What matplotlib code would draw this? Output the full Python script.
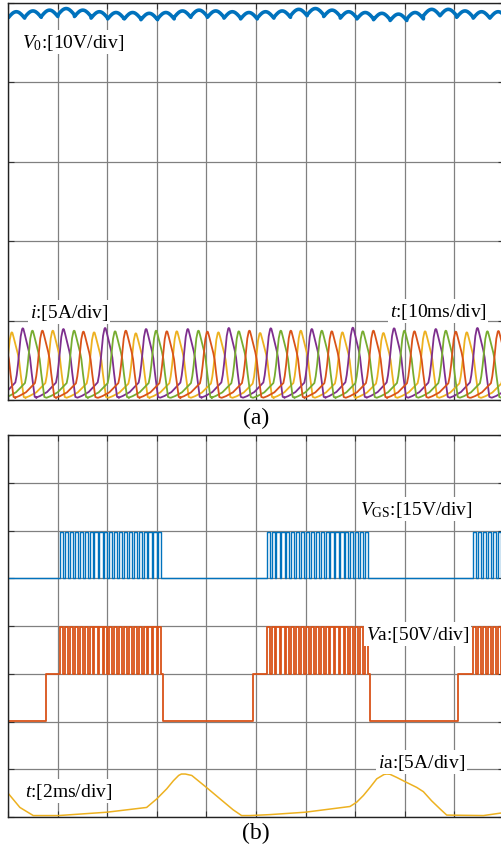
import matplotlib.pyplot as plt
import numpy as np

plt.rcParams['font.family'] = ['Liberation Serif', 'DejaVu Serif']
plt.rcParams['mathtext.fontset'] = 'custom'
plt.rcParams['mathtext.rm'] = 'Liberation Serif'
plt.rcParams['mathtext.it'] = 'Liberation Serif:italic'

# ---------------- data (a) : 10 ms/div, values in divisions ----------------
# output voltage ripple: one arc per ~3.35 ms, top level of each arc
vo_arc_ms = 3.35
vo_arc_top = [4.89, 4.90, 4.91, 4.93, 4.91, 4.89, 4.88, 4.88, 4.87, 4.88,
              4.90, 4.91, 4.90, 4.89, 4.88, 4.89, 4.90, 4.92, 4.93, 4.91,
              4.89, 4.88, 4.87, 4.86, 4.88, 4.92, 4.92, 4.90, 4.89, 4.89]
vo_depth = 0.08

# phase current pulses: peak time (ms) and peak height (div)
phase_order = ['R', 'O', 'P', 'G']
pk_t = [-1.3, 0.75, 2.96, 4.90, 6.91, 9.01, 11.15, 13.31, 15.18, 17.34, 19.56,
        21.57, 23.73, 25.75, 27.82, 29.84, 32.00, 34.01, 36.23, 38.37, 40.18,
        42.40, 44.50, 46.51, 48.65, 50.81, 52.96, 54.98, 57.00, 59.01, 61.23,
        63.25, 65.26, 67.40, 69.50, 71.51, 73.65, 75.67, 77.82, 79.90, 81.92,
        84.07, 86.23, 88.25, 90.26, 92.48, 94.62, 96.63, 98.85, 100.95, 103.1]
pk_h = [0.87, 0.852, 0.903, 0.873, 0.873, 0.873, 0.894, 0.873, 0.861, 0.852,
        0.907, 0.865, 0.873, 0.840, 0.894, 0.873, 0.865, 0.865, 0.894, 0.873,
        0.861, 0.852, 0.907, 0.865, 0.873, 0.844, 0.903, 0.873, 0.873, 0.873,
        0.894, 0.873, 0.865, 0.852, 0.911, 0.865, 0.873, 0.844, 0.903, 0.873,
        0.865, 0.865, 0.894, 0.873, 0.861, 0.852, 0.907, 0.865, 0.869, 0.85, 0.9]

# one current pulse, time relative to its peak (ms)
tpl_t = [-5.51, -4.71, -3.29, -1.48, -1.21, -0.94, -0.67, -0.40, -0.11, 0.0,
         0.13, 0.40, 0.74, 1.21, 1.48, 1.81, 2.15, 2.42, 2.82]
tpl_v = [0.03, 0.05, 0.10, 0.22, 0.31, 0.45, 0.62, 0.80, 0.89, 0.90,
         0.895, 0.83, 0.74, 0.62, 0.53, 0.34, 0.17, 0.04, 0.03]

# ---------------- data (b) : 2 ms/div ----------------
blk_start = [2.10, 10.43, 18.76]     # ms, start of chopped conduction blocks
blk_len = 4.15
chop_T = 0.198
chop_duty = 0.65
va_step = [1.53, 9.88, 18.13]        # Va steps to middle level
vgs_lo, vgs_hi = 5.0, 5.96
va_lo, va_mid, va_hi = 2.02, 3.0, 3.98

ia_t = [0.0, 0.48, 1.02, 2.03, 3.98, 5.59, 6.00, 6.40, 6.67, 6.88, 6.99, 7.15,
        7.41, 8.00, 8.55, 9.08, 9.42, 9.76, 10.56, 11.98, 13.79, 14.06, 14.33,
        14.60, 14.87, 15.16, 15.27, 15.40, 15.67, 16.01, 16.48, 16.75, 17.08,
        17.42, 17.69, 19.17, 19.84, 20.0]
ia_v = [0.50, 0.20, 0.03, 0.03, 0.10, 0.20, 0.38, 0.59, 0.76, 0.87, 0.90, 0.90,
        0.87, 0.62, 0.38, 0.15, 0.03, 0.03, 0.05, 0.10, 0.22, 0.31, 0.45,
        0.62, 0.80, 0.89, 0.90, 0.895, 0.83, 0.74, 0.62, 0.53, 0.34,
        0.17, 0.04, 0.03, 0.08, 0.09]

c_blue = '#0072BD'
c_red = '#D95319'
c_yel = '#EDB120'
c_pur = '#7E2F8E'
c_grn = '#77AC30'
phase_col = {'O': c_yel, 'P': c_pur, 'G': c_grn, 'R': c_red}

W, H = 502, 853
fig = plt.figure(figsize=(W / 100, H / 100), dpi=100)


def px_axes(l, t, r, b):
    return fig.add_axes([l / W, 1 - b / H, (r - l) / W, (b - t) / H])


def style(ax, nx, ny):
    ax.set_xticks(np.linspace(ax.get_xlim()[0], ax.get_xlim()[1], nx + 1))
    ax.set_yticks(np.arange(ny + 1))
    ax.set_xticklabels([])
    ax.set_yticklabels([])
    ax.grid(True, color='#808080', lw=0.9)
    ax.tick_params(direction='in', length=4, width=0.8, color='#333333',
                   top=True, right=True)
    for s in ax.spines.values():
        s.set_color('#222222')
        s.set_linewidth(1.0)


# ---------------- panel (a) ----------------
ax1 = px_axes(8, 4, 504, 401)
ax1.set_xlim(0, 100)
ax1.set_ylim(0, 5)
style(ax1, 10, 5)

# Vo ripple
vt, vv = [], []
for k, top in enumerate(vo_arc_top):
    u = np.linspace(0, 1, 20)
    vt.extend(k * vo_arc_ms + u * vo_arc_ms)
    vv.extend(top - vo_depth * (1 - np.sin(np.pi * u)))
ax1.plot(vt, vv, color=c_blue, lw=2.6, solid_capstyle='butt', clip_on=True)

# phase currents
tpl_t = np.array(tpl_t)
tpl_v = np.array(tpl_v)
for ph in ['O', 'P', 'G', 'R']:
    xs, ys = [], []
    for i, (t0, h) in enumerate(zip(pk_t, pk_h)):
        if phase_order[i % 4] != ph:
            continue
        xs.extend(t0 + tpl_t)
        ys.extend(tpl_v * h / 0.9)
    ax1.plot(xs, ys, color=phase_col[ph], lw=1.3)

# ---------------- panel (b) ----------------
ax2 = px_axes(8, 436, 504, 818)
ax2.set_xlim(0, 20)
ax2.set_ylim(0, 8)
style(ax2, 10, 8)

# switching edges of the gate and phase voltage
gt, gv = [0.0], [vgs_lo]
at, av = [0.0], [va_lo]
for s, st in zip(blk_start, va_step):
    at += [st, st]
    av += [va_lo, va_mid]
    n = int(round(blk_len / chop_T))
    for j in range(n):
        on = s + j * chop_T
        off = on + chop_duty * chop_T
        gt += [on, on, off, off]
        gv += [vgs_lo, vgs_hi, vgs_hi, vgs_lo]
        at += [on, on, off, off]
        av += [va_mid, va_hi, va_hi, va_mid]
    e = s + blk_len
    at += [e, e]
    av += [va_mid, va_lo]
gt.append(20.5)
gv.append(gv[-1])
at.append(20.5)
av.append(av[-1])

ax2.plot(gt, gv, color=c_blue, lw=1.0)
ax2.plot(at, av, color=c_red, lw=1.3)
ax2.plot(ia_t, ia_v, color=c_yel, lw=1.1)

# ---------------- labels ----------------
box = dict(facecolor='white', edgecolor='none', boxstyle='square,pad=0.08')


def lab(x, y, s, size=14, ha='left', bb=True):
    fig.text(x / W, 1 - y / H, s, fontsize=size, ha=ha, va='center',
             bbox=box if bb else None, zorder=5)


lab(22, 43, r'$V_0$:[10V/div]')
lab(30, 313, r'$i$:[5A/div]')
lab(390, 312, r'$t$:[10ms/div]')
lab(360, 510, r'$V_{\mathrm{GS}}$:[15V/div]')
lab(366, 635, r'$V$a:[50V/div]')
lab(378, 763, r'$i$a:[5A/div]')
lab(25, 792, r'$t$:[2ms/div]')
lab(256, 418, '(a)', size=17, ha='center', bb=False)
lab(256, 833, '(b)', size=17, ha='center', bb=False)

fig.savefig('out.png', dpi=100)
